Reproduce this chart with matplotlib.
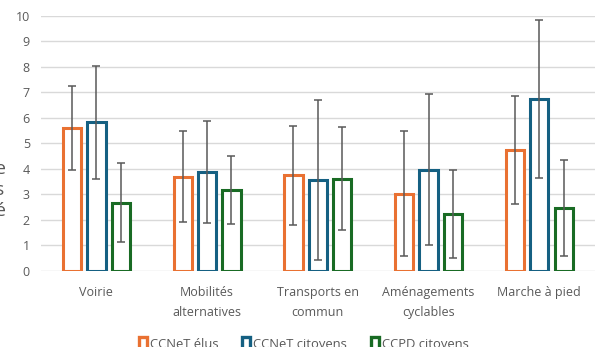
import matplotlib
matplotlib.use("Agg")
import matplotlib.pyplot as plt
import numpy as np
from matplotlib.patches import Patch

plt.rcParams['font.family'] = ['Open Sans', 'DejaVu Sans']

categories = ["Voirie", "Mobilités\nalternatives", "Transports en\ncommun",
              "Aménagements\ncyclables", "Marche à pied"]
series_names = ["CCNeT élus", "CCNeT citoyens", "CCPD citoyens"]

ccnet_elus = [5.60, 3.70, 3.75, 3.03, 4.74]
ccnet_citoyens = [5.82, 3.87, 3.57, 3.97, 6.74]
ccpd_citoyens = [2.68, 3.18, 3.62, 2.22, 2.48]

sd_ccnet_elus = [1.65, 1.80, 1.93, 2.44, 2.12]
sd_ccnet_citoyens = [2.22, 2.00, 3.12, 2.97, 3.09]
sd_ccpd_citoyens = [1.53, 1.34, 2.02, 1.73, 1.88]

yticks = list(range(0, 11))

colors = ["#E97132", "#156082", "#196B24"]
text_gray = "#595959"
grid_gray = "#D9D9D9"

fig = plt.figure(figsize=(5.96, 3.47), dpi=100)
ax = fig.add_axes([0.0688, 0.219, 0.929, 0.736])

x = np.arange(len(categories))
offsets = [-0.22, 0.0, 0.22]
width = 0.165
series = [ccnet_elus, ccnet_citoyens, ccpd_citoyens]
errors = [sd_ccnet_elus, sd_ccnet_citoyens, sd_ccpd_citoyens]

for vals, errs, off, col, name in zip(series, errors, offsets, colors, series_names):
    ax.bar(x + off, vals, width=width, facecolor="white", edgecolor=col,
           linewidth=2.2, label=name, zorder=3)
    ax.errorbar(x + off, vals, yerr=errs, fmt="none", ecolor=text_gray,
                elinewidth=1.1, capsize=2.6, capthick=1.1, zorder=4)

ax.set_xlim(-0.5, len(categories) - 0.5)
ax.set_ylim(0, 10)
ax.set_yticks(yticks)
ax.set_yticklabels([str(t) for t in yticks])
ax.set_xticks(x)
ax.set_xticklabels(categories, linespacing=1.7)
ax.tick_params(axis="both", length=0, labelsize=9, colors=text_gray)
ax.tick_params(axis="x", pad=11)
ax.tick_params(axis="y", pad=8)
for s in ax.spines.values():
    s.set_visible(False)
ax.grid(axis="y", color=grid_gray, linewidth=1.0, zorder=0)
ax.set_axisbelow(True)

# Vertical stacked axis title (mostly outside the left edge)
fig.text(0.0, 0.452, "e\ns\né", ha="center", va="center", fontsize=14,
         color=text_gray, linespacing=1.2)

handles = [Patch(facecolor="white", edgecolor=c, linewidth=2.4) for c in colors]
fig.legend(handles, series_names, loc="center", bbox_to_anchor=(0.51, 0.009),
           ncol=3, frameon=False, fontsize=9.4, labelcolor=text_gray,
           handlelength=0.6, handleheight=1.0, handletextpad=0.25,
           columnspacing=1.8)

fig.savefig("out.png", dpi=100)
